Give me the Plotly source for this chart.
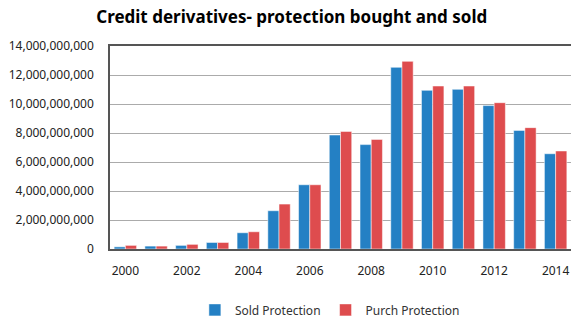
import plotly.graph_objects as go

years = list(range(2000, 2015))
sold = [0.15e9, 0.2e9, 0.25e9, 0.45e9, 1.12e9, 2.64e9, 4.43e9, 7.86e9, 7.2e9,
        12.53e9, 10.94e9, 11.01e9, 9.89e9, 8.18e9, 6.57e9]
purch = [0.25e9, 0.2e9, 0.32e9, 0.45e9, 1.19e9, 3.1e9, 4.43e9, 8.11e9, 7.56e9,
         12.94e9, 11.24e9, 11.24e9, 10.09e9, 8.37e9, 6.76e9]
x_ticks = list(range(2000, 2015, 2))
y_ticks = list(range(0, 14000000001, 2000000000))

font = "Noto Sans"
fig = go.Figure()
fig.add_trace(go.Bar(x=years, y=sold, name="Sold Protection",
                     marker=dict(color="#2480C4", line=dict(color="rgba(255,255,255,0.5)", width=1))))
fig.add_trace(go.Bar(x=years, y=purch, name="Purch Protection",
                     marker=dict(color="#DE4C4E", line=dict(color="rgba(255,255,255,0.5)", width=1))))

fig.update_layout(
    width=572, height=325,
    margin=dict(l=110, r=1, t=46, b=76),
    paper_bgcolor="white", plot_bgcolor="white",
    barmode="group", bargap=0.27, bargroupgap=0,
    font=dict(family=font, size=12, color="#222"),
    title=dict(text="<b>Credit derivatives- protection bought and sold</b>",
               x=0.51, xref="container", xanchor="center", y=0.948, yref="container",
               yanchor="middle", font=dict(family=font, size=17, color="#000")),
    legend=dict(orientation="h", x=0.477, xanchor="center", y=-0.30, yanchor="middle",
                font=dict(size=12, color="#333"), itemwidth=30, traceorder="normal"),
    xaxis=dict(tickvals=x_ticks, ticktext=[str(v) for v in x_ticks], range=[1999.5, 2014.5],
               showline=True, linecolor="#555", linewidth=1.5, mirror=True, ticks="",
               ticklabelstandoff=10, showgrid=False, tickfont=dict(size=12, color="#222")),
    yaxis=dict(tickvals=y_ticks, range=[0, 14e9], tickformat=",d",
               showline=True, linecolor="#555", linewidth=1.5, ticks="",
               gridcolor="#ABABAB", gridwidth=1, ticklabelstandoff=12,
               tickfont=dict(size=12, color="#222"), zeroline=False),
)
fig.write_html("out.html", config={"displayModeBar": False},
               post_script="document.body.style.margin='0';")
